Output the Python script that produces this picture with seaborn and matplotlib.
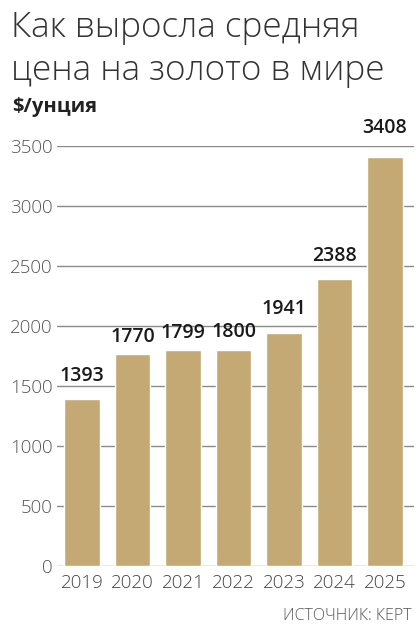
import matplotlib
matplotlib.use("Agg")
import matplotlib.pyplot as plt
import seaborn as sns
import pandas as pd

years = ["2019", "2020", "2021", "2022", "2023", "2024", "2025"]
prices = [1393, 1770, 1799, 1800, 1941, 2388, 3408]
value_labels = ["1393", "1770", "1799", "1800", "1941", "2388", "3408"]
yticks = [0, 500, 1000, 1500, 2000, 2500, 3000, 3500]
label_gap_pt = [9, 5, 5, 6, 10, 10, 14]

title_lines = ["Как выросла средняя", "цена на золото в мире"]
unit_text = "$/унция"
source_text = "ИСТОЧНИК: КЕРТ"

sns.set_theme(style="white")
plt.rcParams["font.family"] = ["Open Sans", "DejaVu Sans"]

BAR = "#C4A974"
GRID = "#8a8a8a"

df = pd.DataFrame({"year": years, "price": prices})

fig = plt.figure(figsize=(4.2, 6.29), dpi=100)
W, H = 420, 629
ax = fig.add_axes([56.75 / W, (H - 566) / H, (414.3 - 56.75) / W, (566 - 146) / H])

ax.set_axisbelow(True)
for t in yticks:
    ax.axhline(t, color=GRID, lw=1.0, zorder=0)

sns.barplot(data=df, x="year", y="price", color=BAR, saturation=1, width=0.71,
            ax=ax, zorder=2)

ax.set_xlim(-0.5, 6.58)
ax.set_ylim(0, 3500)
ax.set_yticks(yticks)
ax.set_yticklabels([str(t) for t in yticks], fontsize=13.5, color="#555555",
                   fontweight=300)
ax.tick_params(axis="y", length=0, pad=3)
ax.tick_params(axis="x", length=0, pad=6)
for lab in ax.get_xticklabels():
    lab.set_fontsize(13.5)
    lab.set_color("#444444")
    lab.set_fontweight(300)
ax.set_xlabel("")
ax.set_ylabel("")
for s in ax.spines.values():
    s.set_visible(False)
ax.grid(False)

for i, (v, lab) in enumerate(zip(prices, value_labels)):
    ax.annotate(lab, (i, v), xytext=(0, label_gap_pt[i]), textcoords="offset points",
                ha="center", va="bottom", fontsize=14, fontweight="semibold",
                color="#1a1a1a", zorder=3)

fig.text(11 / W, 1 - 37 / H, title_lines[0], fontsize=25.3, fontweight=300,
         color="#333333", va="baseline", ha="left")
fig.text(11 / W, 1 - 80 / H, title_lines[1], fontsize=25.3, fontweight=300,
         color="#333333", va="baseline", ha="left")
fig.text(12 / W, 1 - 112 / H, unit_text, fontsize=14.5, fontweight="bold",
         color="#222222", va="baseline", ha="left")
fig.text(412 / W, 1 - 620 / H, source_text, fontsize=11.5, fontweight=300,
         color="#555555", va="baseline", ha="right")

fig.savefig("out.png", dpi=100)
